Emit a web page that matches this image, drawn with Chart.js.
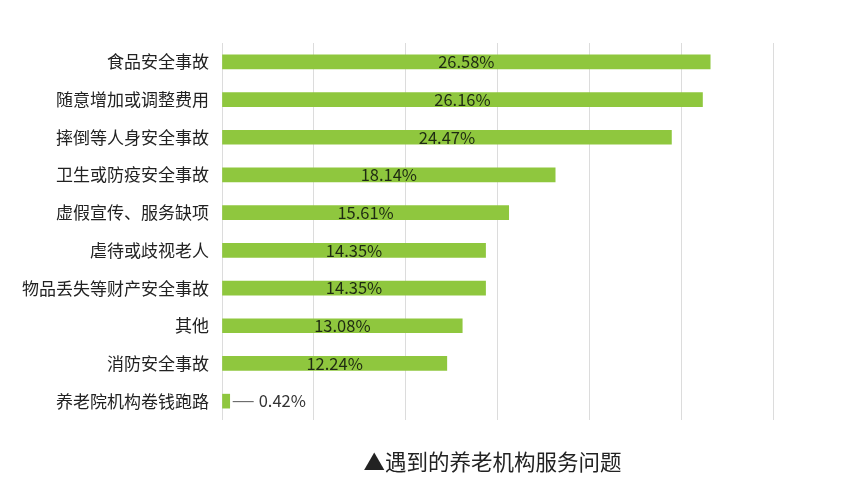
<!DOCTYPE html>
<html>
<head>
<meta charset="utf-8">
<script src="https://cdn.jsdelivr.net/npm/chart.js@4/dist/chart.umd.min.js"></script>
<style>
  html, body { margin: 0; padding: 0; background: #fff; }
  #wrap { width: 842px; height: 499px; }
</style>
</head>
<body>
<div id="wrap"><canvas id="chart"></canvas></div>
<script>
const categories = ['食品安全事故', '随意增加或调整费用', '摔倒等人身安全事故', '卫生或防疫安全事故', '虚假宣传、服务缺项',
  '虐待或歧视老人', '物品丢失等财产安全事故', '其他', '消防安全事故', '养老院机构卷钱跑路'];
const values = [26.58, 26.16, 24.47, 18.14, 15.61, 14.35, 14.35, 13.08, 12.24, 0.42];
const caption = '▲遇到的养老机构服务问题';

const FONT = '"Noto Sans CJK SC", "Noto Sans", sans-serif';

const labelPlugin = {
  id: 'barLabels',
  afterDatasetsDraw(chart) {
    const ctx = chart.ctx;
    const meta = chart.getDatasetMeta(0);
    ctx.save();
    ctx.font = '16.5px ' + FONT;
    ctx.textBaseline = 'middle';
    meta.data.forEach((bar, i) => {
      const text = values[i].toFixed(2) + '%';
      if (values[i] > 5) {
        ctx.fillStyle = '#1e2a12';
        ctx.textAlign = 'center';
        ctx.fillText(text, (bar.x + bar.base) / 2, bar.y);
      } else {
        ctx.strokeStyle = '#555';
        ctx.lineWidth = 1;
        ctx.beginPath();
        ctx.moveTo(bar.x + 3, bar.y + 0.5);
        ctx.lineTo(bar.x + 24, bar.y + 0.5);
        ctx.stroke();
        ctx.fillStyle = '#333';
        ctx.textAlign = 'left';
        ctx.fillText(text, bar.x + 29, bar.y);
      }
    });
    // caption under the plot
    const a = chart.chartArea;
    ctx.font = '21.5px ' + FONT;
    ctx.fillStyle = '#222';
    ctx.textAlign = 'center';
    ctx.fillText(caption, (a.left + a.right) / 2 - 5, 462);
    ctx.restore();
  }
};

new Chart(document.getElementById('chart').getContext('2d'), {
  type: 'bar',
  data: {
    labels: categories,
    datasets: [{
      data: values,
      backgroundColor: '#8fc73e',
      barThickness: 14
    }]
  },
  options: {
    indexAxis: 'y',
    responsive: true,
    maintainAspectRatio: false,
    animation: false,
    layout: { padding: { top: 43, right: 69, bottom: 79, left: 0 } },
    plugins: { legend: { display: false }, tooltip: { enabled: false } },
    scales: {
      x: {
        min: 0, max: 30,
        ticks: { display: false, stepSize: 5 },
        grid: { color: '#dcdcdc', drawTicks: false },
        border: { display: false },
        afterFit: (s) => { s.height = 0; }
      },
      y: {
        grid: { display: false },
        border: { display: false },
        ticks: { color: '#222', padding: 5, font: { size: 17, family: FONT } },
        afterFit: (s) => { s.width = 222; }
      }
    }
  },
  plugins: [labelPlugin]
});
</script>
</body>
</html>
